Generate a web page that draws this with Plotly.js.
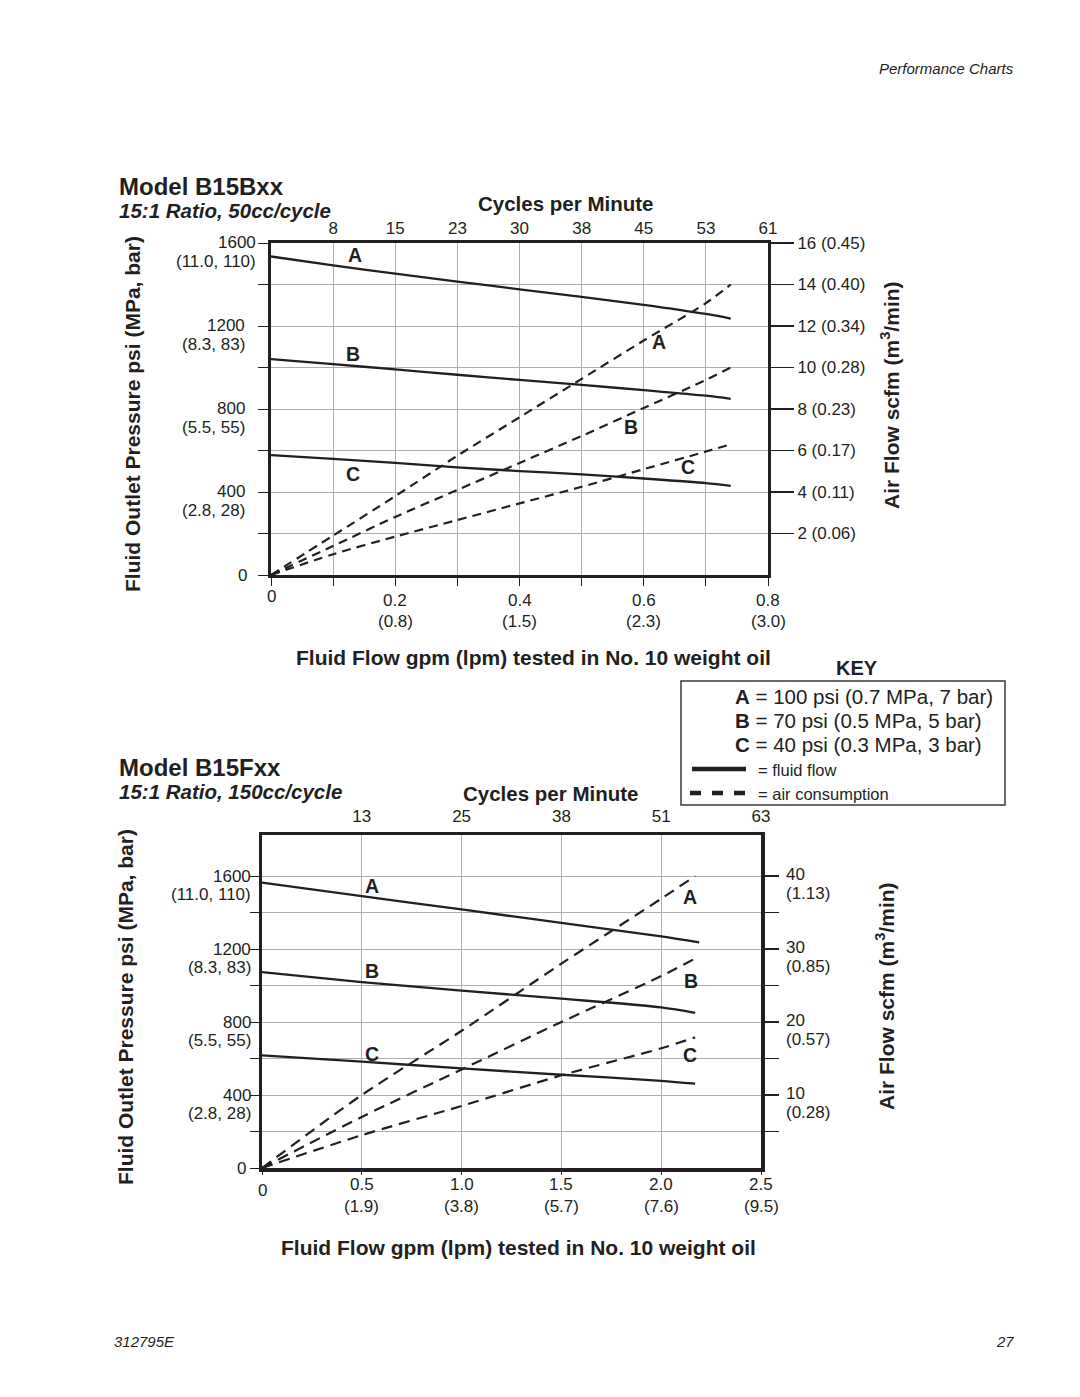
<!DOCTYPE html>
<html>
<head>
<meta charset="utf-8">
<script src="https://cdn.plot.ly/plotly-3.0.1.min.js"></script>
<style>
html,body{margin:0;padding:0;background:#fff;}
#chart{width:1080px;height:1397px;}
</style>
</head>
<body>
<div id="chart"></div>
<script>
// ---------------- DATA ----------------
// Model B15Bxx (50cc/cycle)
const flow1 = [0, 0.1, 0.2, 0.3, 0.4, 0.5, 0.6, 0.7, 0.74];           // gpm
const fluidA1 = [1535, 1492, 1452, 1414, 1377, 1340, 1302, 1258, 1236]; // psi
const fluidB1 = [1040, 1016, 991, 965, 940, 916, 891, 864, 849];
const fluidC1 = [578, 560, 540, 519, 501, 485, 465, 443, 430];
const airA1 = [0, 1.9, 3.8, 5.75, 7.6, 9.45, 11.3, 13.1, 14.0];          // scfm
const airB1 = [0, 1.4, 2.8, 4.1, 5.4, 6.7, 8.05, 9.4, 10.0];
const airC1 = [0, 1.0, 1.85, 2.65, 3.45, 4.25, 5.1, 5.95, 6.3];
const gpmTicks1 = [0, 0.1, 0.2, 0.3, 0.4, 0.5, 0.6, 0.7, 0.8];
const gpmLabel1 = [0.2, 0.4, 0.6, 0.8];
const gpmText1 = ['0.2', '0.4', '0.6', '0.8'];
const lpmText1 = ['(0.8)', '(1.5)', '(2.3)', '(3.0)'];
const cycleTicks1 = [0.1, 0.2, 0.3, 0.4, 0.5, 0.6, 0.7, 0.8];
const cycleText1 = ['8', '15', '23', '30', '38', '45', '53', '61'];
const scfmTicks1 = [2, 4, 6, 8, 10, 12, 14, 16];
const scfmText1 = ['2 (0.06)', '4 (0.11)', '6 (0.17)', '8 (0.23)', '10 (0.28)', '12 (0.34)', '14 (0.40)', '16 (0.45)'];

// Model B15Fxx (150cc/cycle)
const flowA2 = [0, 0.5, 1.0, 1.5, 2.0, 2.19];
const flowBC2 = [0, 0.5, 1.0, 1.5, 2.0, 2.17];
const fluidA2 = [1564, 1490, 1417, 1343, 1270, 1237];
const fluidB2 = [1073, 1019, 972, 928, 880, 850];
const fluidC2 = [617, 583, 546, 511, 478, 462];
const airA2 = [0, 10, 18.8, 28, 36.9, 40];
const airB2 = [0, 7, 13.5, 20, 26.3, 28.7];
const airC2 = [0, 4.5, 8.5, 12.7, 16.4, 17.9];
const gpmTicks2 = [0, 0.5, 1.0, 1.5, 2.0, 2.5];
const gpmLabel2 = [0.5, 1.0, 1.5, 2.0, 2.5];
const gpmText2 = ['0.5', '1.0', '1.5', '2.0', '2.5'];
const lpmText2 = ['(1.9)', '(3.8)', '(5.7)', '(7.6)', '(9.5)'];
const cycleTicks2 = [0.5, 1.0, 1.5, 2.0, 2.5];
const cycleText2 = ['13', '25', '38', '51', '63'];
const scfmTicks2 = [5, 10, 15, 20, 25, 30, 35, 40];
const scfmLabel2 = [10, 20, 30, 40];
const scfmMetric2 = ['(0.28)', '(0.57)', '(0.85)', '(1.13)'];

// shared pressure labels
const psiTicks = [0, 200, 400, 600, 800, 1000, 1200, 1400, 1600];
const psiLabel = [1600, 1200, 800, 400];
const psiMetric = ['(11.0, 110)', '(8.3, 83)', '(5.5, 55)', '(2.8, 28)'];

// key
const keyLetters = ['A', 'B', 'C'];
const keyText = ['= 100 psi (0.7 MPa, 7 bar)', '= 70 psi (0.5 MPa, 5 bar)', '= 40 psi (0.3 MPa, 3 bar)'];

// ---------------- LAYOUT HELPERS ----------------
const W = 1080, H = 1397;
const px = x => x / W;
const py = y => 1 - y / H;
const FONT = 'Liberation Sans, Arial, Helvetica, sans-serif';
const INK = '#231f20';
const GRID = '#adadad';

function solid(x, y, xa, ya) {
  return {x: x, y: y, xaxis: xa, yaxis: ya, type: 'scatter', mode: 'lines',
    line: {color: INK, width: 2.3, shape: 'spline', smoothing: 0.8}, showlegend: false, hoverinfo: 'skip'};
}
function dashed(x, y, xa, ya, dash) {
  return {x: x, y: y, xaxis: xa, yaxis: ya, type: 'scatter', mode: 'lines',
    line: {color: INK, width: 2.2, dash: dash, shape: 'spline', smoothing: 0.8}, showlegend: false, hoverinfo: 'skip'};
}
// empty helper traces so the top "cycles" axes form their own subplots
function axisHolder(x, xa, ya) {
  return {x: x, y: x.map(() => null), xaxis: xa, yaxis: ya, type: 'scatter', mode: 'lines',
    showlegend: false, hoverinfo: 'skip'};
}

const traces = [
  solid(flow1, fluidA1, 'x', 'y'),
  solid(flow1, fluidB1, 'x', 'y'),
  solid(flow1, fluidC1, 'x', 'y'),
  dashed(flow1, airA1, 'x', 'y2', '9px,6px'),
  dashed(flow1, airB1, 'x', 'y2', '9px,6px'),
  dashed(flow1, airC1, 'x', 'y2', '9px,6px'),
  solid(flowA2, fluidA2, 'x3', 'y3'),
  solid(flowBC2, fluidB2, 'x3', 'y3'),
  solid(flowBC2, fluidC2, 'x3', 'y3'),
  dashed(flowBC2, airA2, 'x3', 'y4', '11px,7px'),
  dashed(flowBC2, airB2, 'x3', 'y4', '11px,7px'),
  dashed(flowBC2, airC2, 'x3', 'y4', '11px,7px'),
  axisHolder(cycleTicks1, 'x2', 'y'),
  axisHolder(cycleTicks2, 'x4', 'y3')
];

const ann = [];
function txt(x, y, text, size, opts) {
  ann.push(Object.assign({xref: 'paper', yref: 'paper', x: x, y: y, text: text, showarrow: false,
    font: {family: FONT, size: size, color: INK}, xanchor: 'center', yanchor: 'middle'}, opts || {}));
}

// page header/footer
txt(px(1016), py(68), '<i>Performance Charts</i>', 15, {xanchor: 'right'});
txt(px(112), py(1341), '<i>312795E</i>', 15, {xanchor: 'left'});
txt(px(1016), py(1341), '<i>27</i>', 15, {xanchor: 'right'});

// chart 1 titles
txt(px(117), py(187), '<b>Model B15Bxx</b>', 24, {xanchor: 'left'});
txt(px(117), py(210), '<b><i>15:1 Ratio, 50cc/cycle</i></b>', 20.5, {xanchor: 'left'});
txt(px(565), py(203), '<b>Cycles per Minute</b>', 20.5);
txt(px(133), py(414), '<b>Fluid Outlet Pressure psi (MPa, bar)</b>', 21, {textangle: -90});
txt(px(890), py(395), '<b>Air Flow scfm (m<sup>3</sup>/min)</b>', 21, {textangle: -90});
txt(px(533), py(657), '<b>Fluid Flow gpm (lpm) tested in No. 10 weight oil</b>', 21);

// chart 2 titles
txt(px(117), py(767), '<b>Model B15Fxx</b>', 24, {xanchor: 'left'});
txt(px(117), py(791), '<b><i>15:1 Ratio, 150cc/cycle</i></b>', 20.5, {xanchor: 'left'});
txt(px(550), py(793), '<b>Cycles per Minute</b>', 20.5);
txt(px(125), py(1007), '<b>Fluid Outlet Pressure psi (MPa, bar)</b>', 21, {textangle: -90});
txt(px(885), py(996), '<b>Air Flow scfm (m<sup>3</sup>/min)</b>', 21, {textangle: -90});
txt(px(518), py(1247), '<b>Fluid Flow gpm (lpm) tested in No. 10 weight oil</b>', 21);

const F17 = {family: FONT, size: 17, color: INK};
// left pressure labels (two lines) for both charts
psiLabel.forEach((v, i) => {
  const r1 = (v === 1600) ? 258 : 247;
  ann.push({xref: 'paper', yref: 'y', x: px(r1), y: v, text: String(v), showarrow: false,
    xanchor: 'right', yanchor: 'middle', font: F17});
  ann.push({xref: 'paper', yref: 'y', x: px(r1), y: v, yshift: -19, text: psiMetric[i], showarrow: false,
    xanchor: 'right', yanchor: 'middle', font: F17});
  ann.push({xref: 'paper', yref: 'y3', x: px(253), y: v, text: String(v), showarrow: false,
    xanchor: 'right', yanchor: 'middle', font: F17});
  ann.push({xref: 'paper', yref: 'y3', x: px(253), y: v, yshift: -18, text: psiMetric[i], showarrow: false,
    xanchor: 'right', yanchor: 'middle', font: F17});
});
ann.push({xref: 'paper', yref: 'y', x: px(249), y: 0, text: '0', showarrow: false, xanchor: 'right', yanchor: 'middle', font: F17});
ann.push({xref: 'paper', yref: 'y3', x: px(248), y: 0, text: '0', showarrow: false, xanchor: 'right', yanchor: 'middle', font: F17});

// bottom flow labels (two lines)
ann.push({xref: 'x', yref: 'paper', x: 0, y: py(597), text: '0', showarrow: false, xanchor: 'center', yanchor: 'middle', font: F17});
gpmLabel1.forEach((v, i) => {
  ann.push({xref: 'x', yref: 'paper', x: v, y: py(601), text: gpmText1[i], showarrow: false, xanchor: 'center', yanchor: 'middle', font: F17});
  ann.push({xref: 'x', yref: 'paper', x: v, y: py(622), text: lpmText1[i], showarrow: false, xanchor: 'center', yanchor: 'middle', font: F17});
});
ann.push({xref: 'x3', yref: 'paper', x: 0, y: py(1190), text: '0', showarrow: false, xanchor: 'center', yanchor: 'middle', font: F17});
gpmLabel2.forEach((v, i) => {
  ann.push({xref: 'x3', yref: 'paper', x: v, y: py(1184), text: gpmText2[i], showarrow: false, xanchor: 'center', yanchor: 'middle', font: F17});
  ann.push({xref: 'x3', yref: 'paper', x: v, y: py(1206), text: lpmText2[i], showarrow: false, xanchor: 'center', yanchor: 'middle', font: F17});
});

// right scfm labels chart 2 (two lines)
scfmLabel2.forEach((v, i) => {
  ann.push({xref: 'paper', yref: 'y4', x: px(784), y: v, yshift: 2, text: String(v), showarrow: false,
    xanchor: 'left', yanchor: 'middle', font: F17});
  ann.push({xref: 'paper', yref: 'y4', x: px(784), y: v, yshift: -17, text: scfmMetric2[i], showarrow: false,
    xanchor: 'left', yanchor: 'middle', font: F17});
});

// curve letters
function letter(xref, yref, x, y, t) {
  ann.push({xref: xref, yref: yref, x: x, y: y, text: '<b>' + t + '</b>', showarrow: false,
    xanchor: 'center', yanchor: 'middle', font: {family: FONT, size: 19.5, color: INK}});
}
letter('x', 'y', 0.135, 1542, 'A');
letter('x', 'y', 0.132, 1065, 'B');
letter('x', 'y', 0.132, 487, 'C');
letter('x', 'y', 0.625, 1123, 'A');
letter('x', 'y', 0.58, 713, 'B');
letter('x', 'y', 0.672, 520, 'C');
letter('x3', 'y3', 0.551, 1545, 'A');
letter('x3', 'y3', 0.551, 1079, 'B');
letter('x3', 'y3', 0.551, 625, 'C');
letter('x3', 'y3', 2.144, 1485, 'A');
letter('x3', 'y3', 2.149, 1025, 'B');
letter('x3', 'y3', 2.144, 619, 'C');

// KEY
txt(px(857), py(668), '<b>KEY</b>', 20);
const keyRows = [696, 720, 744];
keyLetters.forEach((L, i) => {
  txt(px(733), py(keyRows[i]), '<b>' + L + '</b> ' + keyText[i], 20.5, {xanchor: 'left'});
});
txt(px(756), py(770), '= fluid flow', 16.5, {xanchor: 'left'});
txt(px(756), py(794), '= air consumption', 16.5, {xanchor: 'left'});

const shapes = [
  {type: 'rect', xref: 'paper', yref: 'paper', x0: px(681), x1: px(1005), y0: py(681), y1: py(805),
    line: {color: '#3a3a3a', width: 1.5}, fillcolor: 'rgba(0,0,0,0)'},
  {type: 'line', xref: 'paper', yref: 'paper', x0: px(692), x1: px(746), y0: py(769), y1: py(769),
    line: {color: INK, width: 4.5}},
  {type: 'line', xref: 'paper', yref: 'paper', x0: px(690), x1: px(746), y0: py(793), y1: py(793),
    line: {color: INK, width: 4.5, dash: '11px,11px'}}
];

const axBase = {zeroline: false, color: INK, tickcolor: INK, gridcolor: GRID, gridwidth: 1,
  tickfont: {family: FONT, size: 17, color: INK}};

const layout = {
  width: W, height: H, margin: {l: 0, r: 0, t: 0, b: 0},
  paper_bgcolor: '#ffffff', plot_bgcolor: 'rgba(0,0,0,0)',
  showlegend: false, font: {family: FONT, color: INK},
  xaxis: Object.assign({}, axBase, {domain: [px(271), px(768)], range: [0, 0.8], anchor: 'y',
    tickmode: 'array', tickvals: gpmTicks1, ticks: 'outside', ticklen: 8, tickwidth: 1, showticklabels: false,
    showgrid: true, showline: true, linecolor: INK, linewidth: 3, mirror: true}),
  yaxis: Object.assign({}, axBase, {domain: [py(575), py(243)], range: [0, 1600], anchor: 'x',
    tickmode: 'array', tickvals: psiTicks, ticks: 'outside', ticklen: 10, tickwidth: 1, showticklabels: false,
    showgrid: true, showline: true, linecolor: INK, linewidth: 3, mirror: true}),
  yaxis2: Object.assign({}, axBase, {overlaying: 'y', side: 'right', anchor: 'x', range: [0, 16],
    tickmode: 'array', tickvals: scfmTicks1, ticktext: scfmText1, ticks: 'outside', ticklen: 25, tickwidth: 1.5,
    showgrid: false, showline: false, ticklabelstandoff: 0}),
  xaxis2: Object.assign({}, axBase, {overlaying: 'x', side: 'top', anchor: 'y', range: [0, 0.8],
    tickmode: 'array', tickvals: cycleTicks1, ticktext: cycleText1, ticks: '', showgrid: false, showline: false,
    showticklabels: true, ticklabelstandoff: 5}),
  xaxis3: Object.assign({}, axBase, {domain: [px(262), px(761)], range: [0, 2.5], anchor: 'y3',
    tickmode: 'array', tickvals: gpmTicks2, ticks: 'outside', ticklen: 3, tickwidth: 1, showticklabels: false,
    showgrid: true, showline: true, linecolor: INK, linewidth: 3.5, mirror: true}),
  yaxis3: Object.assign({}, axBase, {domain: [py(1168), py(835)], range: [0, 1825], anchor: 'x3',
    tickmode: 'array', tickvals: psiTicks, ticks: 'outside', ticklen: 9, tickwidth: 1, showticklabels: false,
    showgrid: true, showline: true, linecolor: INK, linewidth: 3.5, mirror: true}),
  yaxis4: Object.assign({}, axBase, {overlaying: 'y3', side: 'right', anchor: 'x3', range: [0, 45.625],
    tickmode: 'array', tickvals: scfmTicks2, showticklabels: false, ticks: 'outside', ticklen: 17,
    tickwidth: 1.5, showgrid: false, showline: false}),
  xaxis4: Object.assign({}, axBase, {overlaying: 'x3', side: 'top', anchor: 'y3', range: [0, 2.5],
    tickmode: 'array', tickvals: cycleTicks2, ticktext: cycleText2, ticks: '', showgrid: false, showline: false,
    showticklabels: true, ticklabelstandoff: 9}),
  annotations: ann,
  shapes: shapes
};

Plotly.newPlot('chart', traces, layout, {staticPlot: true, displayModeBar: false});
</script>
</body>
</html>
